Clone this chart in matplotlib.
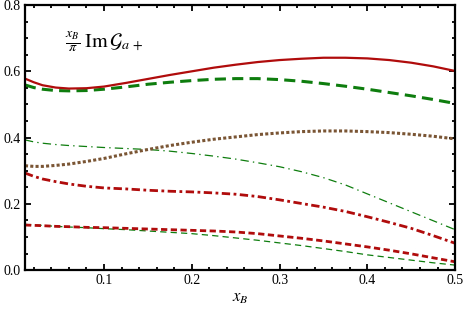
import matplotlib
matplotlib.use("Agg")
import matplotlib.pyplot as plt
from matplotlib.ticker import MultipleLocator

plt.rcParams['font.family'] = ['Liberation Serif', 'DejaVu Serif']
plt.rcParams['mathtext.fontset'] = 'stix'
plt.rcParams['lines.scale_dashes'] = False

x = [0.01, 0.02, 0.03, 0.045, 0.06, 0.08, 0.10, 0.125, 0.15, 0.175, 0.20, 0.225,
     0.25, 0.275, 0.30, 0.325, 0.35, 0.375, 0.40, 0.425, 0.45, 0.475, 0.50]

red_solid = [0.578, 0.567, 0.558, 0.551, 0.548, 0.549, 0.554, 0.565, 0.577, 0.589, 0.600, 0.611,
             0.620, 0.628, 0.634, 0.638, 0.641, 0.641, 0.639, 0.634, 0.626, 0.615, 0.601]
green_dashed_thick = [0.559, 0.551, 0.546, 0.542, 0.541, 0.542, 0.546, 0.553, 0.561, 0.567, 0.572, 0.576,
                      0.578, 0.578, 0.575, 0.570, 0.563, 0.555, 0.546, 0.536, 0.526, 0.515, 0.503]
brown_dotted = [0.315, 0.313, 0.313, 0.316, 0.320, 0.328, 0.337, 0.351, 0.364, 0.376, 0.386, 0.395,
                0.402, 0.409, 0.414, 0.418, 0.420, 0.420, 0.418, 0.415, 0.410, 0.404, 0.396]
green_dashdot_thin = [0.393, 0.387, 0.383, 0.379, 0.376, 0.373, 0.370, 0.367, 0.364, 0.359, 0.352, 0.344,
                      0.335, 0.324, 0.312, 0.297, 0.279, 0.257, 0.230, 0.203, 0.176, 0.149, 0.122]
red_dashdot_thick = [0.293, 0.283, 0.275, 0.267, 0.260, 0.253, 0.248, 0.245, 0.241, 0.238, 0.236, 0.233,
                     0.229, 0.222, 0.212, 0.201, 0.190, 0.177, 0.161, 0.144, 0.126, 0.104, 0.081]
red_dashed_thick = [0.136, 0.135, 0.134, 0.132, 0.131, 0.129, 0.128, 0.126, 0.124, 0.122, 0.120, 0.118,
                    0.115, 0.110, 0.103, 0.096, 0.088, 0.079, 0.070, 0.060, 0.049, 0.037, 0.025]
green_dashed_thin = [0.138, 0.136, 0.135, 0.132, 0.130, 0.128, 0.125, 0.122, 0.118, 0.114, 0.110, 0.104,
                     0.097, 0.090, 0.082, 0.074, 0.065, 0.056, 0.046, 0.038, 0.030, 0.022, 0.015]

xticks = [0.1, 0.2, 0.3, 0.4, 0.5]
yticks = [0.0, 0.2, 0.4, 0.6, 0.8]

RED = '#b00c0c'
GREEN = '#0e7d0e'
BROWN = '#7a5534'

fig = plt.figure(figsize=(4.63, 3.17), dpi=100)
ax = fig.add_axes([0.054, 0.148, 0.929, 0.836])

ax.plot(x, green_dashed_thin, color=GREEN, lw=0.9, dashes=(4.5, 3))
ax.plot(x, red_dashed_thick, color=RED, lw=2.0, dashes=(4.5, 2.5))
ax.plot(x, green_dashdot_thin, color=GREEN, lw=0.9, dashes=(6, 3, 1, 3))
ax.plot(x, red_dashdot_thick, color=RED, lw=2.0, dashes=(6, 2.5, 2, 2.5))
ax.plot(x, brown_dotted, color=BROWN, lw=2.2, dashes=(2.2, 1.6))
ax.plot(x, green_dashed_thick, color=GREEN, lw=2.2, dashes=(8, 4.5))
ax.plot(x, red_solid, color=RED, lw=1.6)

ax.set_xlim(0.01, 0.5)
ax.set_ylim(0.0, 0.8)
ax.set_xticks(xticks)
ax.set_xticklabels([f"{v:.1f}" for v in xticks])
ax.set_yticks(yticks)
ax.set_yticklabels([f"{v:.1f}" for v in yticks])
ax.xaxis.set_minor_locator(MultipleLocator(0.02))
ax.yaxis.set_minor_locator(MultipleLocator(0.05))
ax.tick_params(which='both', direction='in', top=True, right=True, labelsize=10, width=1.3, pad=3)
ax.tick_params(which='major', length=4.5)
ax.tick_params(which='minor', length=2.5)
for s in ax.spines.values():
    s.set_linewidth(1.6)

ax.set_xlabel(r'$x_B$', fontsize=12, labelpad=2)
ax.text(0.093, 0.91, r'$\frac{x_B}{\pi}\;\mathrm{Im}\,\mathcal{G}_{a\,+}$',
        transform=ax.transAxes, fontsize=14.5, va='top', ha='left')

fig.savefig('out.png', dpi=100)
